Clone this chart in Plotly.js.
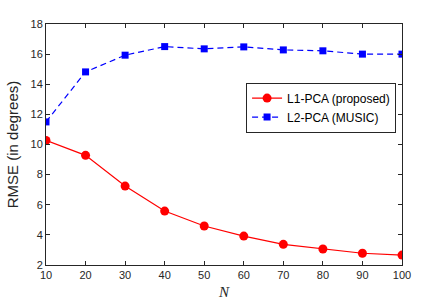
<!DOCTYPE html>
<html><head><meta charset="utf-8">
<script src="https://cdn.plot.ly/plotly-3.0.1.min.js"></script>
<style>html,body{margin:0;padding:0;background:#fff}#chart{width:432px;height:308px}</style>
</head><body><div id="chart"></div>
<script>
const N = [10, 20, 30, 40, 50, 60, 70, 80, 90, 100];
const l1pca = [10.27, 9.28, 7.24, 5.58, 4.59, 3.92, 3.37, 3.06, 2.78, 2.66];
const l2pca = [11.5, 14.82, 15.93, 16.5, 16.35, 16.48, 16.28, 16.22, 16.0, 16.0];
const xTicks = [10, 20, 30, 40, 50, 60, 70, 80, 90, 100];
const yTicks = [2, 4, 6, 8, 10, 12, 14, 16, 18];

const traces = [
  {x: N, y: l1pca, name: 'L1-PCA (proposed)', mode: 'lines+markers',
   line: {color: '#ff0000', width: 1.2}, marker: {symbol: 'circle', size: 9, color: '#ff0000'}},
  {x: N, y: l2pca, name: 'L2-PCA (MUSIC)', mode: 'lines+markers',
   line: {color: '#0000ff', width: 1.2, dash: '6px,4px'}, marker: {symbol: 'square', size: 7, color: '#0000ff'}}
];
const axisCommon = {showgrid: false, zeroline: false, showline: true, mirror: 'ticks',
  linecolor: '#262626', linewidth: 1, ticks: 'inside', ticklen: 4, tickcolor: '#262626',
  tickfont: {family: 'Liberation Sans, Arial, sans-serif', size: 11, color: '#262626'}};
const layout = {
  width: 432, height: 308,
  margin: {l: 46, r: 30, t: 24, b: 43},
  paper_bgcolor: '#fff', plot_bgcolor: '#fff',
  showlegend: true,
  legend: {x: 0.562, y: 0.757, xanchor: 'left', yanchor: 'top', bgcolor: '#fff',
    bordercolor: '#262626', borderwidth: 1, itemwidth: 30, tracegroupgap: 0,
    font: {family: 'Liberation Sans, Arial, sans-serif', size: 12, color: '#000'}},
  xaxis: Object.assign({}, axisCommon, {range: [10, 100], tickvals: xTicks,
    title: {text: 'N', font: {family: 'Liberation Serif, Times New Roman, serif', size: 15, color: '#262626'}, standoff: 6}}),
  yaxis: Object.assign({}, axisCommon, {range: [2, 18], tickvals: yTicks,
    title: {text: 'RMSE (in degrees)', font: {family: 'Liberation Sans, Arial, sans-serif', size: 15, color: '#262626'}, standoff: 8}})
};
Plotly.newPlot('chart', traces, layout, {displayModeBar: false, staticPlot: true}).then(() => {
  const t = document.querySelector('.xtitle');
  if (t) t.style.fontStyle = 'italic';
});
</script></body></html>
